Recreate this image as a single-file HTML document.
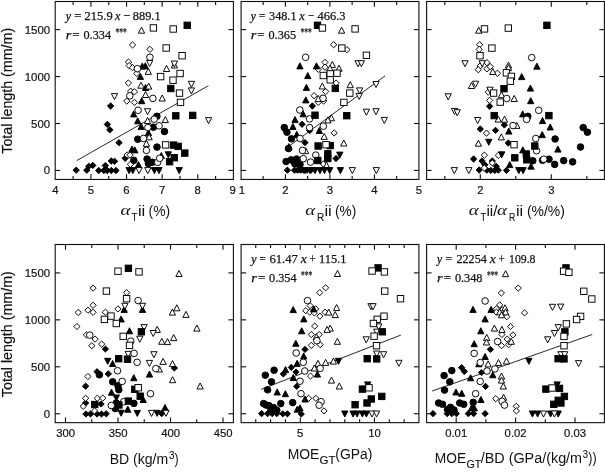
<!DOCTYPE html>
<html><head><meta charset="utf-8"><title>Scatter plots</title>
<style>
html,body{margin:0;padding:0;background:#fff;}
svg{display:block}
text{font-family:"Liberation Sans",sans-serif;fill:#111}
.b{stroke:#111;stroke-width:0.18px}
.b2{stroke:#111;stroke-width:0.1px}
.ser{font-family:"Liberation Serif",serif}
</style></head><body>
<svg width="605" height="472" viewBox="0 0 605 472">
<rect width="605" height="472" fill="#fff"/>
<g stroke="#111" stroke-width="1.12" fill="none">
<rect x="55.20" y="1.50" width="178.20" height="177.95"/>
<path d="M55.20 170.45L60.20 170.45"/>
<path d="M233.40 170.45L228.40 170.45"/>
<path d="M55.20 123.50L60.20 123.50"/>
<path d="M233.40 123.50L228.40 123.50"/>
<path d="M55.20 76.55L60.20 76.55"/>
<path d="M233.40 76.55L228.40 76.55"/>
<path d="M55.20 29.60L60.20 29.60"/>
<path d="M233.40 29.60L228.40 29.60"/>
<path d="M90.92 179.45L90.92 174.25"/>
<path d="M90.92 1.50L90.92 6.70"/>
<path d="M126.54 179.45L126.54 174.25"/>
<path d="M126.54 1.50L126.54 6.70"/>
<path d="M162.16 179.45L162.16 174.25"/>
<path d="M162.16 1.50L162.16 6.70"/>
<path d="M197.78 179.45L197.78 174.25"/>
<path d="M197.78 1.50L197.78 6.70"/>
<path d="M73.11 179.45L73.11 176.05"/>
<path d="M73.11 1.50L73.11 4.90"/>
<path d="M108.73 179.45L108.73 176.05"/>
<path d="M108.73 1.50L108.73 4.90"/>
<path d="M144.35 179.45L144.35 176.05"/>
<path d="M144.35 1.50L144.35 4.90"/>
<path d="M179.97 179.45L179.97 176.05"/>
<path d="M179.97 1.50L179.97 4.90"/>
<path d="M215.59 179.45L215.59 176.05"/>
<path d="M215.59 1.50L215.59 4.90"/>
<rect x="241.10" y="1.50" width="177.80" height="177.95"/>
<path d="M241.10 170.45L246.10 170.45"/>
<path d="M418.90 170.45L413.90 170.45"/>
<path d="M241.10 123.50L246.10 123.50"/>
<path d="M418.90 123.50L413.90 123.50"/>
<path d="M241.10 76.55L246.10 76.55"/>
<path d="M418.90 76.55L413.90 76.55"/>
<path d="M241.10 29.60L246.10 29.60"/>
<path d="M418.90 29.60L413.90 29.60"/>
<path d="M285.40 179.45L285.40 174.25"/>
<path d="M285.40 1.50L285.40 6.70"/>
<path d="M329.90 179.45L329.90 174.25"/>
<path d="M329.90 1.50L329.90 6.70"/>
<path d="M374.40 179.45L374.40 174.25"/>
<path d="M374.40 1.50L374.40 6.70"/>
<path d="M263.15 179.45L263.15 176.05"/>
<path d="M263.15 1.50L263.15 4.90"/>
<path d="M307.65 179.45L307.65 176.05"/>
<path d="M307.65 1.50L307.65 4.90"/>
<path d="M352.15 179.45L352.15 176.05"/>
<path d="M352.15 1.50L352.15 4.90"/>
<path d="M396.65 179.45L396.65 176.05"/>
<path d="M396.65 1.50L396.65 4.90"/>
<rect x="426.60" y="1.50" width="177.80" height="177.95"/>
<path d="M426.60 170.45L431.60 170.45"/>
<path d="M604.40 170.45L599.40 170.45"/>
<path d="M426.60 123.50L431.60 123.50"/>
<path d="M604.40 123.50L599.40 123.50"/>
<path d="M426.60 76.55L431.60 76.55"/>
<path d="M604.40 76.55L599.40 76.55"/>
<path d="M426.60 29.60L431.60 29.60"/>
<path d="M604.40 29.60L599.40 29.60"/>
<path d="M480.30 179.45L480.30 174.25"/>
<path d="M480.30 1.50L480.30 6.70"/>
<path d="M551.30 179.45L551.30 174.25"/>
<path d="M551.30 1.50L551.30 6.70"/>
<path d="M444.80 179.45L444.80 176.05"/>
<path d="M444.80 1.50L444.80 4.90"/>
<path d="M515.80 179.45L515.80 176.05"/>
<path d="M515.80 1.50L515.80 4.90"/>
<path d="M586.80 179.45L586.80 176.05"/>
<path d="M586.80 1.50L586.80 4.90"/>
<rect x="55.20" y="244.50" width="178.20" height="178.15"/>
<path d="M55.20 413.75L60.20 413.75"/>
<path d="M233.40 413.75L228.40 413.75"/>
<path d="M55.20 366.80L60.20 366.80"/>
<path d="M233.40 366.80L228.40 366.80"/>
<path d="M55.20 319.85L60.20 319.85"/>
<path d="M233.40 319.85L228.40 319.85"/>
<path d="M55.20 272.90L60.20 272.90"/>
<path d="M233.40 272.90L228.40 272.90"/>
<path d="M65.50 422.65L65.50 417.45"/>
<path d="M65.50 244.50L65.50 249.70"/>
<path d="M118.00 422.65L118.00 417.45"/>
<path d="M118.00 244.50L118.00 249.70"/>
<path d="M170.50 422.65L170.50 417.45"/>
<path d="M170.50 244.50L170.50 249.70"/>
<path d="M223.00 422.65L223.00 417.45"/>
<path d="M223.00 244.50L223.00 249.70"/>
<path d="M91.75 422.65L91.75 419.25"/>
<path d="M91.75 244.50L91.75 247.90"/>
<path d="M144.25 422.65L144.25 419.25"/>
<path d="M144.25 244.50L144.25 247.90"/>
<path d="M196.75 422.65L196.75 419.25"/>
<path d="M196.75 244.50L196.75 247.90"/>
<rect x="241.10" y="244.50" width="177.80" height="178.15"/>
<path d="M241.10 413.75L246.10 413.75"/>
<path d="M418.90 413.75L413.90 413.75"/>
<path d="M241.10 366.80L246.10 366.80"/>
<path d="M418.90 366.80L413.90 366.80"/>
<path d="M241.10 319.85L246.10 319.85"/>
<path d="M418.90 319.85L413.90 319.85"/>
<path d="M241.10 272.90L246.10 272.90"/>
<path d="M418.90 272.90L413.90 272.90"/>
<path d="M300.26 422.65L300.26 417.45"/>
<path d="M300.26 244.50L300.26 249.70"/>
<path d="M374.46 422.65L374.46 417.45"/>
<path d="M374.46 244.50L374.46 249.70"/>
<path d="M255.74 422.65L255.74 419.25"/>
<path d="M255.74 244.50L255.74 247.90"/>
<path d="M270.58 422.65L270.58 419.25"/>
<path d="M270.58 244.50L270.58 247.90"/>
<path d="M285.42 422.65L285.42 419.25"/>
<path d="M285.42 244.50L285.42 247.90"/>
<path d="M315.10 422.65L315.10 419.25"/>
<path d="M315.10 244.50L315.10 247.90"/>
<path d="M329.94 422.65L329.94 419.25"/>
<path d="M329.94 244.50L329.94 247.90"/>
<path d="M344.78 422.65L344.78 419.25"/>
<path d="M344.78 244.50L344.78 247.90"/>
<path d="M359.62 422.65L359.62 419.25"/>
<path d="M359.62 244.50L359.62 247.90"/>
<path d="M389.30 422.65L389.30 419.25"/>
<path d="M389.30 244.50L389.30 247.90"/>
<path d="M404.14 422.65L404.14 419.25"/>
<path d="M404.14 244.50L404.14 247.90"/>
<rect x="426.60" y="244.50" width="177.80" height="178.15"/>
<path d="M426.60 413.75L431.60 413.75"/>
<path d="M604.40 413.75L599.40 413.75"/>
<path d="M426.60 366.80L431.60 366.80"/>
<path d="M604.40 366.80L599.40 366.80"/>
<path d="M426.60 319.85L431.60 319.85"/>
<path d="M604.40 319.85L599.40 319.85"/>
<path d="M426.60 272.90L431.60 272.90"/>
<path d="M604.40 272.90L599.40 272.90"/>
<path d="M456.20 422.65L456.20 417.45"/>
<path d="M456.20 244.50L456.20 249.70"/>
<path d="M515.60 422.65L515.60 417.45"/>
<path d="M515.60 244.50L515.60 249.70"/>
<path d="M575.00 422.65L575.00 417.45"/>
<path d="M575.00 244.50L575.00 249.70"/>
<path d="M485.90 422.65L485.90 419.25"/>
<path d="M485.90 244.50L485.90 247.90"/>
<path d="M545.30 422.65L545.30 419.25"/>
<path d="M545.30 244.50L545.30 247.90"/>
</g>
<path d="M76.7 160.6L208.4 85.7" stroke="#111" stroke-width="0.9" fill="none"/>
<path d="M285.4 148.8L385.0 75.9" stroke="#111" stroke-width="0.9" fill="none"/>
<path d="M261.2 389.3L400.8 335.1" stroke="#111" stroke-width="0.9" fill="none"/>
<path d="M432.1 391.0L592.2 334.5" stroke="#111" stroke-width="0.9" fill="none"/>
<g stroke="#000" stroke-width="0.95" stroke-linejoin="miter">
<path d="M107.4 106.0L110.6 102.8L113.8 106.0L110.6 109.2Z" fill="#000"/>
<path d="M104.2 124.4L107.4 121.2L110.6 124.4L107.4 127.6Z" fill="#000"/>
<path d="M106.6 129.8L109.8 126.7L113.0 129.8L109.8 133.0Z" fill="#000"/>
<path d="M115.8 142.7L119.0 139.5L122.2 142.7L119.0 145.8Z" fill="#000"/>
<path d="M73.0 170.2L76.2 167.0L79.4 170.2L76.2 173.3Z" fill="#000"/>
<path d="M83.6 170.2L86.8 167.0L90.0 170.2L86.8 173.3Z" fill="#000"/>
<path d="M85.6 166.3L88.8 163.2L92.0 166.3L88.8 169.5Z" fill="#000"/>
<path d="M89.6 165.4L92.8 162.2L96.0 165.4L92.8 168.6Z" fill="#000"/>
<path d="M95.5 170.5L98.7 167.3L101.9 170.5L98.7 173.7Z" fill="#000"/>
<path d="M100.8 170.5L104.0 167.3L107.2 170.5L104.0 173.7Z" fill="#000"/>
<path d="M102.1 165.6L105.3 162.4L108.5 165.6L105.3 168.8Z" fill="#000"/>
<path d="M104.1 170.5L107.3 167.3L110.5 170.5L107.3 173.7Z" fill="#000"/>
<path d="M108.1 170.5L111.3 167.3L114.5 170.5L111.3 173.7Z" fill="#000"/>
<path d="M112.8 170.5L115.9 167.3L119.1 170.5L115.9 173.7Z" fill="#000"/>
<path d="M108.1 161.0L111.3 157.8L114.5 161.0L111.3 164.2Z" fill="#000"/>
<path d="M111.4 161.3L114.6 158.2L117.8 161.3L114.6 164.5Z" fill="#000"/>
<path d="M122.0 158.3L125.2 155.2L128.3 158.3L125.2 161.5Z" fill="#000"/>
<path d="M129.3 44.9L132.5 41.8L135.7 44.9L132.5 48.0Z" fill="#fff"/>
<path d="M146.8 49.4L149.9 46.2L153.1 49.4L149.9 52.5Z" fill="#fff"/>
<path d="M125.3 62.0L128.5 58.9L131.7 62.0L128.5 65.2Z" fill="#fff"/>
<path d="M126.0 65.6L129.2 62.4L132.3 65.6L129.2 68.8Z" fill="#fff"/>
<path d="M129.3 67.6L132.5 64.4L135.7 67.6L132.5 70.8Z" fill="#fff"/>
<path d="M133.7 73.4L136.8 70.2L140.0 73.4L136.8 76.6Z" fill="#fff"/>
<path d="M125.2 83.0L128.4 79.8L131.6 83.0L128.4 86.2Z" fill="#fff"/>
<path d="M127.5 91.2L130.7 88.0L133.8 91.2L130.7 94.4Z" fill="#fff"/>
<path d="M131.2 91.8L134.4 88.6L137.6 91.8L134.4 95.0Z" fill="#fff"/>
<path d="M123.6 101.1L126.8 97.9L129.9 101.1L126.8 104.2Z" fill="#fff"/>
<path d="M131.2 102.4L134.4 99.2L137.6 102.4L134.4 105.6Z" fill="#fff"/>
<path d="M123.9 155.0L127.1 151.8L130.2 155.0L127.1 158.2Z" fill="#fff"/>
<path d="M126.8 155.0L130.0 151.8L133.2 155.0L130.0 158.2Z" fill="#fff"/>
<path d="M127.3 164.3L130.5 161.2L133.7 164.3L130.5 167.5Z" fill="#fff"/>
<path d="M139.15 69.10L145.45 69.10L142.30 63.05Z" fill="#000"/>
<path d="M142.15 68.80L148.45 68.80L145.30 62.75Z" fill="#000"/>
<path d="M137.25 79.40L143.55 79.40L140.40 73.35Z" fill="#000"/>
<path d="M142.45 90.50L148.75 90.50L145.60 84.45Z" fill="#000"/>
<path d="M138.55 103.70L144.85 103.70L141.70 97.65Z" fill="#000"/>
<path d="M130.55 116.90L136.85 116.90L133.70 110.85Z" fill="#000"/>
<path d="M134.55 123.80L140.85 123.80L137.70 117.75Z" fill="#000"/>
<path d="M138.05 129.40L144.35 129.40L141.20 123.35Z" fill="#000"/>
<path d="M128.85 152.10L135.15 152.10L132.00 146.05Z" fill="#000"/>
<path d="M131.65 152.90L137.95 152.90L134.80 146.85Z" fill="#000"/>
<path d="M135.25 167.60L141.55 167.60L138.40 161.55Z" fill="#000"/>
<path d="M145.25 135.60L151.55 135.60L148.40 129.55Z" fill="#000"/>
<path d="M158.15 158.60L164.45 158.60L161.30 152.55Z" fill="#000"/>
<path d="M138.35 33.20L144.65 33.20L141.50 27.15Z" fill="#fff"/>
<path d="M145.15 74.40L151.45 74.40L148.30 68.35Z" fill="#fff"/>
<path d="M163.45 71.50L169.75 71.50L166.60 65.45Z" fill="#fff"/>
<path d="M171.25 68.00L177.55 68.00L174.40 61.95Z" fill="#fff"/>
<path d="M137.85 88.20L144.15 88.20L141.00 82.15Z" fill="#fff"/>
<path d="M145.55 89.10L151.85 89.10L148.70 83.05Z" fill="#fff"/>
<path d="M142.45 97.50L148.75 97.50L145.60 91.45Z" fill="#fff"/>
<path d="M159.05 101.00L165.35 101.00L162.20 94.95Z" fill="#fff"/>
<path d="M144.45 123.50L150.75 123.50L147.60 117.45Z" fill="#fff"/>
<path d="M162.15 122.60L168.45 122.60L165.30 116.55Z" fill="#fff"/>
<path d="M145.95 139.80L152.25 139.80L149.10 133.75Z" fill="#fff"/>
<path d="M143.25 146.40L149.55 146.40L146.40 140.35Z" fill="#fff"/>
<circle cx="156.9" cy="116.3" r="3.3" fill="#000"/>
<circle cx="153.4" cy="127.2" r="3.3" fill="#000"/>
<circle cx="164.5" cy="131.5" r="3.3" fill="#000"/>
<circle cx="133.8" cy="160.3" r="3.3" fill="#000"/>
<circle cx="137.8" cy="139.2" r="3.3" fill="#000"/>
<circle cx="157.0" cy="147.1" r="3.3" fill="#000"/>
<circle cx="147.1" cy="159.0" r="3.3" fill="#000"/>
<circle cx="148.4" cy="163.6" r="3.3" fill="#000"/>
<circle cx="152.4" cy="162.3" r="3.3" fill="#000"/>
<circle cx="149.9" cy="57.3" r="3.3" fill="#fff"/>
<circle cx="137.4" cy="68.7" r="3.3" fill="#fff"/>
<circle cx="129.8" cy="95.8" r="3.3" fill="#fff"/>
<circle cx="152.9" cy="98.4" r="3.3" fill="#fff"/>
<circle cx="138.1" cy="110.3" r="3.3" fill="#fff"/>
<circle cx="154.2" cy="119.2" r="3.3" fill="#fff"/>
<circle cx="147.9" cy="127.5" r="3.3" fill="#fff"/>
<circle cx="159.1" cy="125.8" r="3.3" fill="#fff"/>
<circle cx="143.5" cy="138.5" r="3.3" fill="#fff"/>
<circle cx="146.4" cy="150.4" r="3.3" fill="#fff"/>
<circle cx="157.7" cy="162.3" r="3.3" fill="#fff"/>
<circle cx="159.7" cy="158.3" r="3.3" fill="#fff"/>
<path d="M125.95 167.60L132.25 167.60L129.10 173.65Z" fill="#000"/>
<path d="M129.65 167.60L135.95 167.60L132.80 173.65Z" fill="#000"/>
<path d="M165.15 151.80L171.45 151.80L168.30 157.85Z" fill="#000"/>
<path d="M151.25 167.60L157.55 167.60L154.40 173.65Z" fill="#000"/>
<path d="M155.85 167.60L162.15 167.60L159.00 173.65Z" fill="#000"/>
<path d="M176.05 167.60L182.35 167.60L179.20 173.65Z" fill="#000"/>
<path d="M146.55 60.40L152.85 60.40L149.70 66.45Z" fill="#fff"/>
<path d="M171.25 61.00L177.55 61.00L174.40 67.05Z" fill="#fff"/>
<path d="M111.35 93.60L117.65 93.60L114.50 99.65Z" fill="#fff"/>
<path d="M144.45 108.70L150.75 108.70L147.60 114.75Z" fill="#fff"/>
<path d="M188.25 81.30L194.55 81.30L191.40 87.35Z" fill="#fff"/>
<path d="M188.25 87.90L194.55 87.90L191.40 93.95Z" fill="#fff"/>
<path d="M205.45 117.60L211.75 117.60L208.60 123.65Z" fill="#fff"/>
<path d="M135.95 167.60L142.25 167.60L139.10 173.65Z" fill="#fff"/>
<path d="M144.65 167.60L150.95 167.60L147.80 173.65Z" fill="#fff"/>
<rect x="184.0" y="22.1" width="6.4" height="6.4" fill="#000"/>
<rect x="167.6" y="85.3" width="6.4" height="6.4" fill="#000"/>
<rect x="172.6" y="112.6" width="6.4" height="6.4" fill="#000"/>
<rect x="189.5" y="112.2" width="6.4" height="6.4" fill="#000"/>
<rect x="170.4" y="141.9" width="6.4" height="6.4" fill="#000"/>
<rect x="175.0" y="143.2" width="6.4" height="6.4" fill="#000"/>
<rect x="181.6" y="149.9" width="6.4" height="6.4" fill="#000"/>
<rect x="171.0" y="154.5" width="6.4" height="6.4" fill="#000"/>
<rect x="166.4" y="158.5" width="6.4" height="6.4" fill="#000"/>
<rect x="150.2" y="24.7" width="6.4" height="6.4" fill="#fff"/>
<rect x="170.0" y="25.8" width="6.4" height="6.4" fill="#fff"/>
<rect x="163.0" y="44.8" width="6.4" height="6.4" fill="#fff"/>
<rect x="178.9" y="52.5" width="6.4" height="6.4" fill="#fff"/>
<rect x="157.4" y="73.4" width="6.4" height="6.4" fill="#fff"/>
<rect x="176.9" y="70.3" width="6.4" height="6.4" fill="#fff"/>
<rect x="169.8" y="77.0" width="6.4" height="6.4" fill="#fff"/>
<rect x="176.3" y="89.9" width="6.4" height="6.4" fill="#fff"/>
<rect x="177.3" y="99.2" width="6.4" height="6.4" fill="#fff"/>
<rect x="162.4" y="141.7" width="6.4" height="6.4" fill="#fff"/>
<path d="M309.2 106.0L312.4 102.8L315.5 106.0L312.4 109.2Z" fill="#000"/>
<path d="M299.0 124.3L302.1 121.1L305.2 124.3L302.1 127.5Z" fill="#000"/>
<path d="M306.5 130.5L309.6 127.3L312.8 130.5L309.6 133.7Z" fill="#000"/>
<path d="M301.9 142.6L305.0 139.4L308.1 142.6L305.0 145.8Z" fill="#000"/>
<path d="M332.9 158.5L336.0 155.3L339.1 158.5L336.0 161.7Z" fill="#000"/>
<path d="M284.2 170.2L287.4 167.0L290.5 170.2L287.4 173.3Z" fill="#000"/>
<path d="M291.4 170.2L294.5 167.0L297.6 170.2L294.5 173.3Z" fill="#000"/>
<path d="M294.4 170.2L297.5 167.0L300.6 170.2L297.5 173.3Z" fill="#000"/>
<path d="M297.4 170.2L300.5 167.0L303.6 170.2L300.5 173.3Z" fill="#000"/>
<path d="M300.4 170.2L303.5 167.0L306.6 170.2L303.5 173.3Z" fill="#000"/>
<path d="M303.9 170.2L307.0 167.0L310.1 170.2L307.0 173.3Z" fill="#000"/>
<path d="M307.9 170.2L311.0 167.0L314.1 170.2L311.0 173.3Z" fill="#000"/>
<path d="M330.5 44.8L333.6 41.6L336.8 44.8L333.6 47.9Z" fill="#fff"/>
<path d="M343.8 49.6L346.9 46.5L350.0 49.6L346.9 52.8Z" fill="#fff"/>
<path d="M321.9 62.4L325.0 59.2L328.1 62.4L325.0 65.5Z" fill="#fff"/>
<path d="M321.9 67.2L325.0 64.0L328.1 67.2L325.0 70.4Z" fill="#fff"/>
<path d="M315.2 69.2L318.4 66.0L321.5 69.2L318.4 72.4Z" fill="#fff"/>
<path d="M333.1 83.1L336.2 79.9L339.3 83.1L336.2 86.2Z" fill="#fff"/>
<path d="M322.5 91.5L325.6 88.3L328.8 91.5L325.6 94.7Z" fill="#fff"/>
<path d="M311.0 95.7L314.1 92.5L317.2 95.7L314.1 98.9Z" fill="#fff"/>
<path d="M315.2 102.3L318.3 99.1L321.4 102.3L318.3 105.5Z" fill="#fff"/>
<path d="M320.5 101.0L323.6 97.8L326.8 101.0L323.6 104.2Z" fill="#fff"/>
<path d="M331.1 132.9L334.2 129.8L337.3 132.9L334.2 136.1Z" fill="#fff"/>
<path d="M320.2 163.9L323.3 160.8L326.4 163.9L323.3 167.1Z" fill="#fff"/>
<path d="M296.75 68.90L303.05 68.90L299.90 62.85Z" fill="#000"/>
<path d="M313.25 68.90L319.55 68.90L316.40 62.85Z" fill="#000"/>
<path d="M304.65 78.60L310.95 78.60L307.80 72.55Z" fill="#000"/>
<path d="M303.25 90.40L309.55 90.40L306.40 84.35Z" fill="#000"/>
<path d="M302.65 102.90L308.95 102.90L305.80 96.85Z" fill="#000"/>
<path d="M299.95 116.80L306.25 116.80L303.10 110.75Z" fill="#000"/>
<path d="M291.85 122.60L298.15 122.60L295.00 116.55Z" fill="#000"/>
<path d="M289.75 129.50L296.05 129.50L292.90 123.45Z" fill="#000"/>
<path d="M316.15 133.50L322.45 133.50L319.30 127.45Z" fill="#000"/>
<path d="M293.65 137.40L299.95 137.40L296.80 131.35Z" fill="#000"/>
<path d="M285.75 149.60L292.05 149.60L288.90 143.55Z" fill="#000"/>
<path d="M338.45 33.20L344.75 33.20L341.60 27.15Z" fill="#fff"/>
<path d="M329.15 67.40L335.45 67.40L332.30 61.35Z" fill="#fff"/>
<path d="M326.85 71.20L333.15 71.20L330.00 65.15Z" fill="#fff"/>
<path d="M335.85 71.20L342.15 71.20L339.00 65.15Z" fill="#fff"/>
<path d="M319.15 89.00L325.45 89.00L322.30 82.95Z" fill="#fff"/>
<path d="M347.05 87.70L353.35 87.70L350.20 81.65Z" fill="#fff"/>
<path d="M315.15 101.60L321.45 101.60L318.30 95.55Z" fill="#fff"/>
<path d="M328.25 120.80L334.55 120.80L331.40 114.75Z" fill="#fff"/>
<path d="M324.75 122.90L331.05 122.90L327.90 116.85Z" fill="#fff"/>
<path d="M321.05 139.40L327.35 139.40L324.20 133.35Z" fill="#fff"/>
<path d="M340.65 146.00L346.95 146.00L343.80 139.95Z" fill="#fff"/>
<path d="M302.45 153.70L308.75 153.70L305.60 147.65Z" fill="#fff"/>
<path d="M323.35 168.10L329.65 168.10L326.50 162.05Z" fill="#fff"/>
<circle cx="284.3" cy="127.6" r="3.3" fill="#000"/>
<circle cx="286.9" cy="132.2" r="3.3" fill="#000"/>
<circle cx="291.5" cy="138.8" r="3.3" fill="#000"/>
<circle cx="288.5" cy="148.5" r="3.3" fill="#000"/>
<circle cx="286.1" cy="161.5" r="3.3" fill="#000"/>
<circle cx="291.2" cy="159.9" r="3.3" fill="#000"/>
<circle cx="296.6" cy="159.0" r="3.3" fill="#000"/>
<circle cx="294.8" cy="163.8" r="3.3" fill="#000"/>
<circle cx="300.0" cy="164.5" r="3.3" fill="#000"/>
<circle cx="305.6" cy="57.3" r="3.3" fill="#fff"/>
<circle cx="323.0" cy="98.3" r="3.3" fill="#fff"/>
<circle cx="299.8" cy="110.0" r="3.3" fill="#fff"/>
<circle cx="309.5" cy="118.9" r="3.3" fill="#fff"/>
<circle cx="309.6" cy="127.6" r="3.3" fill="#fff"/>
<circle cx="323.3" cy="126.2" r="3.3" fill="#fff"/>
<circle cx="300.1" cy="138.5" r="3.3" fill="#fff"/>
<circle cx="302.5" cy="150.4" r="3.3" fill="#fff"/>
<circle cx="315.8" cy="155.1" r="3.3" fill="#fff"/>
<circle cx="303.3" cy="158.7" r="3.3" fill="#fff"/>
<circle cx="310.5" cy="162.1" r="3.3" fill="#fff"/>
<path d="M336.65 152.10L342.95 152.10L339.80 158.15Z" fill="#000"/>
<path d="M301.85 167.60L308.15 167.60L305.00 173.65Z" fill="#000"/>
<path d="M306.85 167.60L313.15 167.60L310.00 173.65Z" fill="#000"/>
<path d="M311.85 167.60L318.15 167.60L315.00 173.65Z" fill="#000"/>
<path d="M316.85 167.60L323.15 167.60L320.00 173.65Z" fill="#000"/>
<path d="M321.35 167.60L327.65 167.60L324.50 173.65Z" fill="#000"/>
<path d="M326.55 167.60L332.85 167.60L329.70 173.65Z" fill="#000"/>
<path d="M337.25 167.60L343.55 167.60L340.40 173.65Z" fill="#000"/>
<path d="M354.95 60.70L361.25 60.70L358.10 66.75Z" fill="#fff"/>
<path d="M358.25 60.70L364.55 60.70L361.40 66.75Z" fill="#fff"/>
<path d="M356.45 87.90L362.75 87.90L359.60 93.95Z" fill="#fff"/>
<path d="M356.05 93.40L362.35 93.40L359.20 99.45Z" fill="#fff"/>
<path d="M372.85 81.50L379.15 81.50L376.00 87.55Z" fill="#fff"/>
<path d="M363.25 109.20L369.55 109.20L366.40 115.25Z" fill="#fff"/>
<path d="M372.85 108.70L379.15 108.70L376.00 114.75Z" fill="#fff"/>
<path d="M381.15 117.40L387.45 117.40L384.30 123.45Z" fill="#fff"/>
<path d="M349.15 167.60L355.45 167.60L352.30 173.65Z" fill="#fff"/>
<path d="M373.15 167.60L379.45 167.60L376.30 173.65Z" fill="#fff"/>
<rect x="314.3" y="22.1" width="6.4" height="6.4" fill="#000"/>
<rect x="332.1" y="85.2" width="6.4" height="6.4" fill="#000"/>
<rect x="311.8" y="112.0" width="6.4" height="6.4" fill="#000"/>
<rect x="343.6" y="112.5" width="6.4" height="6.4" fill="#000"/>
<rect x="314.9" y="142.8" width="6.4" height="6.4" fill="#000"/>
<rect x="327.0" y="142.4" width="6.4" height="6.4" fill="#000"/>
<rect x="324.6" y="150.6" width="6.4" height="6.4" fill="#000"/>
<rect x="324.6" y="155.3" width="6.4" height="6.4" fill="#000"/>
<rect x="314.6" y="157.3" width="6.4" height="6.4" fill="#000"/>
<rect x="319.2" y="24.8" width="6.4" height="6.4" fill="#fff"/>
<rect x="351.9" y="25.7" width="6.4" height="6.4" fill="#fff"/>
<rect x="338.6" y="44.9" width="6.4" height="6.4" fill="#fff"/>
<rect x="363.2" y="52.1" width="6.4" height="6.4" fill="#fff"/>
<rect x="333.8" y="70.0" width="6.4" height="6.4" fill="#fff"/>
<rect x="320.1" y="72.3" width="6.4" height="6.4" fill="#fff"/>
<rect x="327.0" y="70.7" width="6.4" height="6.4" fill="#fff"/>
<rect x="327.0" y="76.6" width="6.4" height="6.4" fill="#fff"/>
<rect x="346.6" y="89.9" width="6.4" height="6.4" fill="#fff"/>
<rect x="340.7" y="99.2" width="6.4" height="6.4" fill="#fff"/>
<rect x="322.8" y="141.5" width="6.4" height="6.4" fill="#fff"/>
<path d="M486.5 106.3L489.6 103.1L492.8 106.3L489.6 109.5Z" fill="#000"/>
<path d="M501.2 124.9L504.4 121.8L507.5 124.9L504.4 128.1Z" fill="#000"/>
<path d="M477.2 129.0L480.3 125.8L483.4 129.0L480.3 132.2Z" fill="#000"/>
<path d="M492.4 130.3L495.5 127.2L498.6 130.3L495.5 133.5Z" fill="#000"/>
<path d="M505.2 143.0L508.3 139.8L511.4 143.0L508.3 146.2Z" fill="#000"/>
<path d="M470.5 159.0L473.6 155.8L476.8 159.0L473.6 162.2Z" fill="#000"/>
<path d="M478.9 160.9L482.0 157.8L485.1 160.9L482.0 164.1Z" fill="#000"/>
<path d="M489.2 161.0L492.3 157.8L495.4 161.0L492.3 164.2Z" fill="#000"/>
<path d="M476.1 170.0L479.2 166.8L482.3 170.0L479.2 173.2Z" fill="#000"/>
<path d="M481.8 164.8L484.9 161.7L488.0 164.8L484.9 168.0Z" fill="#000"/>
<path d="M483.8 170.2L486.9 167.0L490.0 170.2L486.9 173.3Z" fill="#000"/>
<path d="M487.7 170.4L490.8 167.2L493.9 170.4L490.8 173.6Z" fill="#000"/>
<path d="M491.7 170.4L494.8 167.2L497.9 170.4L494.8 173.6Z" fill="#000"/>
<path d="M495.2 170.2L498.3 167.0L501.4 170.2L498.3 173.3Z" fill="#000"/>
<path d="M493.2 166.3L496.3 163.2L499.4 166.3L496.3 169.5Z" fill="#000"/>
<path d="M503.4 170.4L506.5 167.2L509.6 170.4L506.5 173.6Z" fill="#000"/>
<path d="M476.5 44.8L479.6 41.6L482.8 44.8L479.6 47.9Z" fill="#fff"/>
<path d="M476.1 49.4L479.2 46.2L482.3 49.4L479.2 52.5Z" fill="#fff"/>
<path d="M483.8 62.6L486.9 59.5L490.0 62.6L486.9 65.8Z" fill="#fff"/>
<path d="M477.1 65.9L480.2 62.8L483.3 65.9L480.2 69.1Z" fill="#fff"/>
<path d="M475.2 69.7L478.3 66.5L481.4 69.7L478.3 72.9Z" fill="#fff"/>
<path d="M483.8 68.8L486.9 65.6L490.0 68.8L486.9 72.0Z" fill="#fff"/>
<path d="M487.1 66.6L490.2 63.4L493.3 66.6L490.2 69.8Z" fill="#fff"/>
<path d="M494.2 73.3L497.4 70.1L500.5 73.3L497.4 76.5Z" fill="#fff"/>
<path d="M485.2 92.1L488.3 88.9L491.4 92.1L488.3 95.2Z" fill="#fff"/>
<path d="M486.5 100.4L489.6 97.2L492.8 100.4L489.6 103.6Z" fill="#fff"/>
<path d="M483.4 133.2L486.5 130.0L489.6 133.2L486.5 136.3Z" fill="#fff"/>
<path d="M481.2 155.2L484.4 152.0L487.5 155.2L484.4 158.3Z" fill="#fff"/>
<path d="M495.2 155.4L498.3 152.2L501.4 155.4L498.3 158.6Z" fill="#fff"/>
<path d="M489.2 162.9L492.3 159.8L495.4 162.9L492.3 166.1Z" fill="#fff"/>
<path d="M481.2 168.0L484.4 164.8L487.5 168.0L484.4 171.2Z" fill="#fff"/>
<path d="M533.75 69.20L540.05 69.20L536.90 63.15Z" fill="#000"/>
<path d="M518.55 79.60L524.85 79.60L521.70 73.55Z" fill="#000"/>
<path d="M527.25 91.10L533.55 91.10L530.40 85.05Z" fill="#000"/>
<path d="M527.55 103.70L533.85 103.70L530.70 97.65Z" fill="#000"/>
<path d="M519.55 116.90L525.85 116.90L522.70 110.85Z" fill="#000"/>
<path d="M539.35 123.60L545.65 123.60L542.50 117.55Z" fill="#000"/>
<path d="M547.05 130.00L553.35 130.00L550.20 123.95Z" fill="#000"/>
<path d="M539.05 137.60L545.35 137.60L542.20 131.55Z" fill="#000"/>
<path d="M554.75 152.10L561.05 152.10L557.90 146.05Z" fill="#000"/>
<path d="M527.85 169.20L534.15 169.20L531.00 163.15Z" fill="#000"/>
<path d="M505.65 134.10L511.95 134.10L508.80 128.05Z" fill="#000"/>
<path d="M519.65 152.90L525.95 152.90L522.80 146.85Z" fill="#000"/>
<path d="M506.55 167.60L512.85 167.60L509.70 161.55Z" fill="#000"/>
<path d="M475.55 33.20L481.85 33.20L478.70 27.15Z" fill="#fff"/>
<path d="M489.65 74.50L495.95 74.50L492.80 68.45Z" fill="#fff"/>
<path d="M505.35 68.10L511.65 68.10L508.50 62.05Z" fill="#fff"/>
<path d="M505.35 70.60L511.65 70.60L508.50 64.55Z" fill="#fff"/>
<path d="M468.35 88.50L474.65 88.50L471.50 82.45Z" fill="#fff"/>
<path d="M498.35 97.70L504.65 97.70L501.50 91.65Z" fill="#fff"/>
<path d="M511.05 101.50L517.35 101.50L514.20 95.45Z" fill="#fff"/>
<path d="M495.05 122.10L501.35 122.10L498.20 116.05Z" fill="#fff"/>
<path d="M501.35 122.20L507.65 122.20L504.50 116.15Z" fill="#fff"/>
<path d="M513.65 128.40L519.95 128.40L516.80 122.35Z" fill="#fff"/>
<path d="M498.15 139.90L504.45 139.90L501.30 133.85Z" fill="#fff"/>
<path d="M475.25 146.20L481.55 146.20L478.40 140.15Z" fill="#fff"/>
<circle cx="527.8" cy="116.3" r="3.3" fill="#000"/>
<circle cx="583.2" cy="127.6" r="3.3" fill="#000"/>
<circle cx="587.4" cy="132.2" r="3.3" fill="#000"/>
<circle cx="555.1" cy="139.0" r="3.3" fill="#000"/>
<circle cx="580.5" cy="147.0" r="3.3" fill="#000"/>
<circle cx="532.8" cy="160.8" r="3.3" fill="#000"/>
<circle cx="542.5" cy="160.3" r="3.3" fill="#000"/>
<circle cx="549.0" cy="159.2" r="3.3" fill="#000"/>
<circle cx="554.7" cy="164.4" r="3.3" fill="#000"/>
<circle cx="563.7" cy="160.6" r="3.3" fill="#000"/>
<circle cx="572.6" cy="161.9" r="3.3" fill="#000"/>
<circle cx="531.7" cy="57.6" r="3.3" fill="#fff"/>
<circle cx="506.7" cy="98.5" r="3.3" fill="#fff"/>
<circle cx="513.0" cy="125.6" r="3.3" fill="#fff"/>
<circle cx="538.7" cy="110.3" r="3.3" fill="#fff"/>
<circle cx="526.6" cy="119.4" r="3.3" fill="#fff"/>
<circle cx="535.8" cy="138.5" r="3.3" fill="#fff"/>
<circle cx="536.6" cy="150.7" r="3.3" fill="#fff"/>
<circle cx="543.8" cy="159.2" r="3.3" fill="#fff"/>
<path d="M485.65 139.30L491.95 139.30L488.80 145.35Z" fill="#000"/>
<path d="M498.55 151.80L504.85 151.80L501.70 157.85Z" fill="#000"/>
<path d="M515.65 167.60L521.95 167.60L518.80 173.65Z" fill="#000"/>
<path d="M519.95 167.60L526.25 167.60L523.10 173.65Z" fill="#000"/>
<path d="M461.85 60.70L468.15 60.70L465.00 66.75Z" fill="#fff"/>
<path d="M479.05 60.70L485.35 60.70L482.20 66.75Z" fill="#fff"/>
<path d="M472.45 81.20L478.75 81.20L475.60 87.25Z" fill="#fff"/>
<path d="M486.85 87.20L493.15 87.20L490.00 93.25Z" fill="#fff"/>
<path d="M445.05 93.80L451.35 93.80L448.20 99.85Z" fill="#fff"/>
<path d="M451.35 108.40L457.65 108.40L454.50 114.45Z" fill="#fff"/>
<path d="M454.05 109.70L460.35 109.70L457.20 115.75Z" fill="#fff"/>
<path d="M474.55 117.50L480.85 117.50L477.70 123.55Z" fill="#fff"/>
<path d="M451.15 167.60L457.45 167.60L454.30 173.65Z" fill="#fff"/>
<path d="M465.65 167.60L471.95 167.60L468.80 173.65Z" fill="#fff"/>
<rect x="543.7" y="22.1" width="6.4" height="6.4" fill="#000"/>
<rect x="500.8" y="85.5" width="6.4" height="6.4" fill="#000"/>
<rect x="491.0" y="112.4" width="6.4" height="6.4" fill="#000"/>
<rect x="545.7" y="112.4" width="6.4" height="6.4" fill="#000"/>
<rect x="531.6" y="142.8" width="6.4" height="6.4" fill="#000"/>
<rect x="511.6" y="154.6" width="6.4" height="6.4" fill="#000"/>
<rect x="523.1" y="150.8" width="6.4" height="6.4" fill="#000"/>
<rect x="523.6" y="156.6" width="6.4" height="6.4" fill="#000"/>
<rect x="481.3" y="25.7" width="6.4" height="6.4" fill="#fff"/>
<rect x="505.1" y="24.9" width="6.4" height="6.4" fill="#fff"/>
<rect x="488.7" y="44.9" width="6.4" height="6.4" fill="#fff"/>
<rect x="476.8" y="52.5" width="6.4" height="6.4" fill="#fff"/>
<rect x="503.2" y="69.6" width="6.4" height="6.4" fill="#fff"/>
<rect x="508.2" y="73.2" width="6.4" height="6.4" fill="#fff"/>
<rect x="507.1" y="78.0" width="6.4" height="6.4" fill="#fff"/>
<rect x="490.4" y="89.9" width="6.4" height="6.4" fill="#fff"/>
<rect x="497.0" y="98.9" width="6.4" height="6.4" fill="#fff"/>
<rect x="510.8" y="141.5" width="6.4" height="6.4" fill="#fff"/>
<path d="M102.2 349.0L105.4 345.9L108.6 349.0L105.4 352.1Z" fill="#000"/>
<path d="M93.9 371.7L97.1 368.6L100.2 371.7L97.1 374.8Z" fill="#000"/>
<path d="M171.2 368.0L174.4 364.9L177.6 368.0L174.4 371.1Z" fill="#000"/>
<path d="M105.1 373.9L108.3 370.8L111.5 373.9L108.3 377.0Z" fill="#000"/>
<path d="M82.4 386.2L85.6 383.1L88.8 386.2L85.6 389.3Z" fill="#000"/>
<path d="M97.8 404.0L101.0 400.9L104.2 404.0L101.0 407.1Z" fill="#000"/>
<path d="M82.4 403.0L85.6 399.9L88.8 403.0L85.6 406.1Z" fill="#000"/>
<path d="M82.8 414.0L85.9 410.9L89.1 414.0L85.9 417.1Z" fill="#000"/>
<path d="M87.3 414.0L90.5 410.9L93.7 414.0L90.5 417.1Z" fill="#000"/>
<path d="M93.9 414.0L97.1 410.9L100.2 414.0L97.1 417.1Z" fill="#000"/>
<path d="M98.3 414.0L101.5 410.9L104.7 414.0L101.5 417.1Z" fill="#000"/>
<path d="M103.0 413.8L106.2 410.7L109.4 413.8L106.2 416.9Z" fill="#000"/>
<path d="M158.5 413.6L161.7 410.5L164.8 413.6L161.7 416.8Z" fill="#000"/>
<path d="M89.9 288.1L93.1 285.0L96.2 288.1L93.1 291.2Z" fill="#fff"/>
<path d="M123.4 292.6L126.6 289.5L129.8 292.6L126.6 295.8Z" fill="#fff"/>
<path d="M89.9 305.3L93.1 302.2L96.2 305.3L93.1 308.4Z" fill="#fff"/>
<path d="M84.8 310.2L87.9 307.1L91.1 310.2L87.9 313.3Z" fill="#fff"/>
<path d="M89.9 312.3L93.1 309.2L96.2 312.3L93.1 315.4Z" fill="#fff"/>
<path d="M75.0 312.5L78.2 309.4L81.4 312.5L78.2 315.6Z" fill="#fff"/>
<path d="M102.2 312.2L105.4 309.1L108.6 312.2L105.4 315.3Z" fill="#fff"/>
<path d="M114.8 308.9L117.9 305.8L121.1 308.9L117.9 312.0Z" fill="#fff"/>
<path d="M73.8 326.5L76.9 323.4L80.1 326.5L76.9 329.6Z" fill="#fff"/>
<path d="M83.3 334.9L86.5 331.8L89.7 334.9L86.5 338.0Z" fill="#fff"/>
<path d="M91.9 339.1L95.1 336.0L98.2 339.1L95.1 342.2Z" fill="#fff"/>
<path d="M98.5 344.1L101.7 341.0L104.9 344.1L101.7 347.2Z" fill="#fff"/>
<path d="M88.6 345.7L91.8 342.6L95.0 345.7L91.8 348.8Z" fill="#fff"/>
<path d="M84.8 376.5L87.9 373.4L91.1 376.5L87.9 379.6Z" fill="#fff"/>
<path d="M82.4 398.3L85.6 395.2L88.8 398.3L85.6 401.4Z" fill="#fff"/>
<path d="M94.1 398.3L97.3 395.2L100.5 398.3L97.3 401.4Z" fill="#fff"/>
<path d="M99.6 398.1L102.8 395.0L106.0 398.1L102.8 401.2Z" fill="#fff"/>
<path d="M80.0 406.3L83.2 403.2L86.4 406.3L83.2 409.4Z" fill="#fff"/>
<path d="M91.3 410.9L94.5 407.8L97.7 410.9L94.5 414.0Z" fill="#fff"/>
<path d="M121.05 312.40L127.35 312.40L124.20 306.35Z" fill="#000"/>
<path d="M139.35 312.40L145.65 312.40L142.50 306.35Z" fill="#000"/>
<path d="M117.95 322.00L124.25 322.00L121.10 315.95Z" fill="#000"/>
<path d="M126.35 333.80L132.65 333.80L129.50 327.75Z" fill="#000"/>
<path d="M109.45 366.50L115.75 366.50L112.60 360.45Z" fill="#000"/>
<path d="M130.65 380.70L136.95 380.70L133.80 374.65Z" fill="#000"/>
<path d="M146.35 377.10L152.65 377.10L149.50 371.05Z" fill="#000"/>
<path d="M108.35 395.20L114.65 395.20L111.50 389.15Z" fill="#000"/>
<path d="M140.05 402.50L146.35 402.50L143.20 396.45Z" fill="#000"/>
<path d="M124.65 412.20L130.95 412.20L127.80 406.15Z" fill="#000"/>
<path d="M161.85 410.50L168.15 410.50L165.00 404.45Z" fill="#000"/>
<path d="M175.85 276.50L182.15 276.50L179.00 270.45Z" fill="#fff"/>
<path d="M173.65 310.80L179.95 310.80L176.80 304.75Z" fill="#fff"/>
<path d="M169.25 315.10L175.55 315.10L172.40 309.05Z" fill="#fff"/>
<path d="M182.85 317.40L189.15 317.40L186.00 311.35Z" fill="#fff"/>
<path d="M193.75 331.10L200.05 331.10L196.90 325.05Z" fill="#fff"/>
<path d="M154.05 332.40L160.35 332.40L157.20 326.35Z" fill="#fff"/>
<path d="M170.55 340.60L176.85 340.60L173.70 334.55Z" fill="#fff"/>
<path d="M158.65 344.30L164.95 344.30L161.80 338.25Z" fill="#fff"/>
<path d="M164.35 344.60L170.65 344.60L167.50 338.55Z" fill="#fff"/>
<path d="M159.95 364.40L166.25 364.40L163.10 358.35Z" fill="#fff"/>
<path d="M169.35 366.60L175.65 366.60L172.50 360.55Z" fill="#fff"/>
<path d="M156.15 372.00L162.45 372.00L159.30 365.95Z" fill="#fff"/>
<path d="M169.45 382.70L175.75 382.70L172.60 376.65Z" fill="#fff"/>
<path d="M196.95 389.00L203.25 389.00L200.10 382.95Z" fill="#fff"/>
<circle cx="99.4" cy="374.8" r="3.3" fill="#000"/>
<circle cx="112.7" cy="381.8" r="3.3" fill="#000"/>
<circle cx="118.0" cy="385.8" r="3.3" fill="#000"/>
<circle cx="118.8" cy="389.8" r="3.3" fill="#000"/>
<circle cx="133.9" cy="403.4" r="3.3" fill="#000"/>
<circle cx="116.3" cy="403.0" r="3.3" fill="#000"/>
<circle cx="114.8" cy="406.7" r="3.3" fill="#000"/>
<circle cx="115.2" cy="408.6" r="3.3" fill="#000"/>
<circle cx="138.1" cy="300.6" r="3.3" fill="#fff"/>
<circle cx="89.8" cy="335.1" r="3.3" fill="#fff"/>
<circle cx="130.8" cy="341.1" r="3.3" fill="#fff"/>
<circle cx="134.1" cy="353.4" r="3.3" fill="#fff"/>
<circle cx="137.1" cy="362.3" r="3.3" fill="#fff"/>
<circle cx="117.5" cy="370.7" r="3.3" fill="#fff"/>
<circle cx="155.8" cy="368.6" r="3.3" fill="#fff"/>
<circle cx="122.2" cy="381.4" r="3.3" fill="#fff"/>
<circle cx="123.7" cy="401.7" r="3.3" fill="#fff"/>
<circle cx="111.3" cy="405.5" r="3.3" fill="#fff"/>
<circle cx="150.5" cy="393.7" r="3.3" fill="#fff"/>
<path d="M104.55 358.30L110.85 358.30L107.70 364.35Z" fill="#000"/>
<path d="M113.15 395.00L119.45 395.00L116.30 401.05Z" fill="#000"/>
<path d="M117.95 410.20L124.25 410.20L121.10 416.25Z" fill="#000"/>
<path d="M134.15 410.40L140.45 410.40L137.30 416.45Z" fill="#000"/>
<path d="M153.95 410.30L160.25 410.30L157.10 416.35Z" fill="#000"/>
<path d="M121.75 303.30L128.05 303.30L124.90 309.35Z" fill="#fff"/>
<path d="M139.35 303.30L145.65 303.30L142.50 309.35Z" fill="#fff"/>
<path d="M140.95 324.60L147.25 324.60L144.10 330.65Z" fill="#fff"/>
<path d="M136.65 336.20L142.95 336.20L139.80 342.25Z" fill="#fff"/>
<path d="M125.05 351.40L131.35 351.40L128.20 357.45Z" fill="#fff"/>
<path d="M146.25 360.40L152.55 360.40L149.40 366.45Z" fill="#fff"/>
<path d="M150.05 330.50L156.35 330.50L153.20 336.55Z" fill="#fff"/>
<path d="M150.75 351.70L157.05 351.70L153.90 357.75Z" fill="#fff"/>
<path d="M148.35 410.40L154.65 410.40L151.50 416.45Z" fill="#fff"/>
<path d="M162.85 410.30L169.15 410.30L166.00 416.35Z" fill="#fff"/>
<rect x="125.2" y="265.1" width="6.4" height="6.4" fill="#000"/>
<rect x="138.2" y="328.6" width="6.4" height="6.4" fill="#000"/>
<rect x="115.5" y="355.5" width="6.4" height="6.4" fill="#000"/>
<rect x="124.3" y="356.0" width="6.4" height="6.4" fill="#000"/>
<rect x="131.6" y="386.1" width="6.4" height="6.4" fill="#000"/>
<rect x="137.0" y="393.0" width="6.4" height="6.4" fill="#000"/>
<rect x="125.2" y="397.9" width="6.4" height="6.4" fill="#000"/>
<rect x="91.6" y="401.3" width="6.4" height="6.4" fill="#000"/>
<rect x="115.7" y="401.8" width="6.4" height="6.4" fill="#000"/>
<rect x="114.8" y="268.0" width="6.4" height="6.4" fill="#fff"/>
<rect x="135.8" y="268.7" width="6.4" height="6.4" fill="#fff"/>
<rect x="103.2" y="287.9" width="6.4" height="6.4" fill="#fff"/>
<rect x="123.4" y="295.5" width="6.4" height="6.4" fill="#fff"/>
<rect x="107.8" y="312.9" width="6.4" height="6.4" fill="#fff"/>
<rect x="101.2" y="316.2" width="6.4" height="6.4" fill="#fff"/>
<rect x="113.1" y="320.3" width="6.4" height="6.4" fill="#fff"/>
<rect x="120.0" y="333.2" width="6.4" height="6.4" fill="#fff"/>
<rect x="126.3" y="342.2" width="6.4" height="6.4" fill="#fff"/>
<rect x="135.0" y="384.5" width="6.4" height="6.4" fill="#fff"/>
<path d="M301.9 349.4L305.0 346.2L308.1 349.4L305.0 352.5Z" fill="#000"/>
<path d="M288.2 367.4L291.3 364.2L294.4 367.4L291.3 370.5Z" fill="#000"/>
<path d="M292.9 372.0L296.0 368.9L299.1 372.0L296.0 375.1Z" fill="#000"/>
<path d="M280.2 373.9L283.4 370.8L286.5 373.9L283.4 377.0Z" fill="#000"/>
<path d="M293.6 386.4L296.7 383.2L299.8 386.4L296.7 389.5Z" fill="#000"/>
<path d="M258.5 413.6L261.6 410.5L264.8 413.6L261.6 416.8Z" fill="#000"/>
<path d="M264.5 413.6L267.6 410.5L270.8 413.6L267.6 416.8Z" fill="#000"/>
<path d="M269.1 413.6L272.2 410.5L275.3 413.6L272.2 416.8Z" fill="#000"/>
<path d="M273.7 413.6L276.8 410.5L279.9 413.6L276.8 416.8Z" fill="#000"/>
<path d="M279.7 413.8L282.8 410.7L285.9 413.8L282.8 416.9Z" fill="#000"/>
<path d="M284.2 413.8L287.4 410.7L290.5 413.8L287.4 416.9Z" fill="#000"/>
<path d="M298.2 414.0L301.3 410.9L304.4 414.0L301.3 417.1Z" fill="#000"/>
<path d="M322.5 287.8L325.6 284.7L328.8 287.8L325.6 290.9Z" fill="#fff"/>
<path d="M316.6 292.6L319.7 289.5L322.8 292.6L319.7 295.8Z" fill="#fff"/>
<path d="M307.0 305.6L310.1 302.5L313.2 305.6L310.1 308.8Z" fill="#fff"/>
<path d="M302.7 310.6L305.8 307.5L308.9 310.6L305.8 313.8Z" fill="#fff"/>
<path d="M312.6 308.9L315.7 305.8L318.8 308.9L315.7 312.0Z" fill="#fff"/>
<path d="M306.7 312.2L309.8 309.1L312.9 312.2L309.8 315.3Z" fill="#fff"/>
<path d="M311.2 312.9L314.4 309.8L317.5 312.9L314.4 316.0Z" fill="#fff"/>
<path d="M321.9 312.2L325.0 309.1L328.1 312.2L325.0 315.3Z" fill="#fff"/>
<path d="M316.8 316.2L319.9 313.1L323.0 316.2L319.9 319.3Z" fill="#fff"/>
<path d="M311.6 326.1L314.7 323.0L317.8 326.1L314.7 329.2Z" fill="#fff"/>
<path d="M308.2 334.5L311.3 331.4L314.4 334.5L311.3 337.6Z" fill="#fff"/>
<path d="M316.1 334.5L319.2 331.4L322.3 334.5L319.2 337.6Z" fill="#fff"/>
<path d="M317.1 344.6L320.2 341.5L323.3 344.6L320.2 347.8Z" fill="#fff"/>
<path d="M308.2 345.4L311.3 342.2L314.4 345.4L311.3 348.5Z" fill="#fff"/>
<path d="M307.4 376.1L310.5 373.0L313.6 376.1L310.5 379.2Z" fill="#fff"/>
<path d="M305.5 398.3L308.6 395.2L311.8 398.3L308.6 401.4Z" fill="#fff"/>
<path d="M312.7 398.3L315.8 395.2L318.9 398.3L315.8 401.4Z" fill="#fff"/>
<path d="M320.9 410.9L324.0 407.8L327.1 410.9L324.0 414.0Z" fill="#fff"/>
<path d="M290.05 312.60L296.35 312.60L293.20 306.55Z" fill="#000"/>
<path d="M310.55 311.90L316.85 311.90L313.70 305.85Z" fill="#000"/>
<path d="M300.65 321.90L306.95 321.90L303.80 315.85Z" fill="#000"/>
<path d="M298.55 333.80L304.85 333.80L301.70 327.75Z" fill="#000"/>
<path d="M292.65 346.30L298.95 346.30L295.80 340.25Z" fill="#000"/>
<path d="M300.55 358.90L306.85 358.90L303.70 352.85Z" fill="#000"/>
<path d="M293.95 366.40L300.25 366.40L297.10 360.35Z" fill="#000"/>
<path d="M282.35 372.60L288.65 372.60L285.50 366.55Z" fill="#000"/>
<path d="M314.25 377.10L320.55 377.10L317.40 371.05Z" fill="#000"/>
<path d="M290.15 380.50L296.45 380.50L293.30 374.45Z" fill="#000"/>
<path d="M274.05 395.00L280.35 395.00L277.20 388.95Z" fill="#000"/>
<path d="M282.25 396.70L288.55 396.70L285.40 390.65Z" fill="#000"/>
<path d="M301.85 402.00L308.15 402.00L305.00 395.95Z" fill="#000"/>
<path d="M294.15 412.20L300.45 412.20L297.30 406.15Z" fill="#000"/>
<path d="M296.85 410.90L303.15 410.90L300.00 404.85Z" fill="#000"/>
<path d="M334.35 276.50L340.65 276.50L337.50 270.45Z" fill="#fff"/>
<path d="M325.55 315.10L331.85 315.10L328.70 309.05Z" fill="#fff"/>
<path d="M333.45 310.60L339.75 310.60L336.60 304.55Z" fill="#fff"/>
<path d="M332.05 317.60L338.35 317.60L335.20 311.55Z" fill="#fff"/>
<path d="M327.05 331.10L333.35 331.10L330.20 325.05Z" fill="#fff"/>
<path d="M323.95 332.40L330.25 332.40L327.10 326.35Z" fill="#fff"/>
<path d="M313.15 339.70L319.45 339.70L316.30 333.65Z" fill="#fff"/>
<path d="M334.25 344.30L340.55 344.30L337.40 338.25Z" fill="#fff"/>
<path d="M330.25 364.10L336.55 364.10L333.40 358.05Z" fill="#fff"/>
<path d="M322.45 365.40L328.75 365.40L325.60 359.35Z" fill="#fff"/>
<path d="M314.85 366.40L321.15 366.40L318.00 360.35Z" fill="#fff"/>
<path d="M311.25 371.00L317.55 371.00L314.40 364.95Z" fill="#fff"/>
<path d="M328.35 383.10L334.65 383.10L331.50 377.05Z" fill="#fff"/>
<path d="M336.15 389.00L342.45 389.00L339.30 382.95Z" fill="#fff"/>
<circle cx="274.1" cy="370.2" r="3.3" fill="#000"/>
<circle cx="265.3" cy="375.2" r="3.3" fill="#000"/>
<circle cx="271.5" cy="381.8" r="3.3" fill="#000"/>
<circle cx="267.6" cy="389.8" r="3.3" fill="#000"/>
<circle cx="263.6" cy="403.6" r="3.3" fill="#000"/>
<circle cx="266.0" cy="405.0" r="3.3" fill="#000"/>
<circle cx="268.9" cy="405.6" r="3.3" fill="#000"/>
<circle cx="273.5" cy="407.6" r="3.3" fill="#000"/>
<circle cx="280.8" cy="403.6" r="3.3" fill="#000"/>
<circle cx="292.7" cy="402.6" r="3.3" fill="#000"/>
<circle cx="276.8" cy="410.2" r="3.3" fill="#000"/>
<circle cx="271.0" cy="410.5" r="3.3" fill="#000"/>
<circle cx="307.5" cy="300.6" r="3.3" fill="#fff"/>
<circle cx="316.9" cy="340.7" r="3.3" fill="#fff"/>
<circle cx="296.2" cy="353.0" r="3.3" fill="#fff"/>
<circle cx="303.3" cy="362.3" r="3.3" fill="#fff"/>
<circle cx="320.2" cy="368.4" r="3.3" fill="#fff"/>
<circle cx="304.8" cy="371.0" r="3.3" fill="#fff"/>
<circle cx="300.0" cy="381.2" r="3.3" fill="#fff"/>
<circle cx="301.0" cy="393.7" r="3.3" fill="#fff"/>
<circle cx="321.1" cy="401.7" r="3.3" fill="#fff"/>
<circle cx="319.1" cy="405.2" r="3.3" fill="#fff"/>
<path d="M335.35 358.30L341.65 358.30L338.50 364.35Z" fill="#000"/>
<path d="M364.55 381.90L370.85 381.90L367.70 387.95Z" fill="#000"/>
<path d="M341.65 411.00L347.95 411.00L344.80 417.05Z" fill="#000"/>
<path d="M349.95 411.00L356.25 411.00L353.10 417.05Z" fill="#000"/>
<path d="M353.95 411.00L360.25 411.00L357.10 417.05Z" fill="#000"/>
<path d="M359.25 411.00L365.55 411.00L362.40 417.05Z" fill="#000"/>
<path d="M363.25 411.00L369.55 411.00L366.40 417.05Z" fill="#000"/>
<path d="M367.85 303.70L374.15 303.70L371.00 309.75Z" fill="#fff"/>
<path d="M369.85 303.70L376.15 303.70L373.00 309.75Z" fill="#fff"/>
<path d="M375.55 323.90L381.85 323.90L378.70 329.95Z" fill="#fff"/>
<path d="M373.55 329.20L379.85 329.20L376.70 335.25Z" fill="#fff"/>
<path d="M363.05 336.80L369.35 336.80L366.20 342.85Z" fill="#fff"/>
<path d="M380.45 351.70L386.75 351.70L383.60 357.75Z" fill="#fff"/>
<path d="M373.55 351.00L379.85 351.00L376.70 357.05Z" fill="#fff"/>
<path d="M395.75 360.30L402.05 360.30L398.90 366.35Z" fill="#fff"/>
<path d="M368.85 411.00L375.15 411.00L372.00 417.05Z" fill="#fff"/>
<path d="M373.35 411.00L379.65 411.00L376.50 417.05Z" fill="#fff"/>
<rect x="374.9" y="264.7" width="6.4" height="6.4" fill="#000"/>
<rect x="379.1" y="328.6" width="6.4" height="6.4" fill="#000"/>
<rect x="364.0" y="355.5" width="6.4" height="6.4" fill="#000"/>
<rect x="373.5" y="355.7" width="6.4" height="6.4" fill="#000"/>
<rect x="359.2" y="385.9" width="6.4" height="6.4" fill="#000"/>
<rect x="378.6" y="393.2" width="6.4" height="6.4" fill="#000"/>
<rect x="368.1" y="395.8" width="6.4" height="6.4" fill="#000"/>
<rect x="363.8" y="399.8" width="6.4" height="6.4" fill="#000"/>
<rect x="351.9" y="401.5" width="6.4" height="6.4" fill="#000"/>
<rect x="368.9" y="267.8" width="6.4" height="6.4" fill="#fff"/>
<rect x="381.2" y="268.7" width="6.4" height="6.4" fill="#fff"/>
<rect x="381.5" y="287.9" width="6.4" height="6.4" fill="#fff"/>
<rect x="397.3" y="295.5" width="6.4" height="6.4" fill="#fff"/>
<rect x="380.8" y="313.0" width="6.4" height="6.4" fill="#fff"/>
<rect x="374.0" y="316.1" width="6.4" height="6.4" fill="#fff"/>
<rect x="370.2" y="320.3" width="6.4" height="6.4" fill="#fff"/>
<rect x="370.9" y="333.0" width="6.4" height="6.4" fill="#fff"/>
<rect x="373.3" y="342.5" width="6.4" height="6.4" fill="#fff"/>
<rect x="365.8" y="384.6" width="6.4" height="6.4" fill="#fff"/>
<path d="M487.2 349.4L490.4 346.2L493.5 349.4L490.4 352.5Z" fill="#000"/>
<path d="M458.5 367.6L461.6 364.5L464.8 367.6L461.6 370.8Z" fill="#000"/>
<path d="M461.2 371.5L464.3 368.4L467.4 371.5L464.3 374.6Z" fill="#000"/>
<path d="M478.4 372.5L481.5 369.4L484.6 372.5L481.5 375.6Z" fill="#000"/>
<path d="M482.4 386.4L485.5 383.2L488.6 386.4L485.5 389.5Z" fill="#000"/>
<path d="M429.9 413.6L433.0 410.5L436.1 413.6L433.0 416.8Z" fill="#000"/>
<path d="M444.1 413.6L447.2 410.5L450.3 413.6L447.2 416.8Z" fill="#000"/>
<path d="M448.7 413.6L451.8 410.5L454.9 413.6L451.8 416.8Z" fill="#000"/>
<path d="M453.2 413.6L456.4 410.5L459.5 413.6L456.4 416.8Z" fill="#000"/>
<path d="M465.2 413.6L468.3 410.5L471.4 413.6L468.3 416.8Z" fill="#000"/>
<path d="M470.5 413.6L473.6 410.5L476.8 413.6L473.6 416.8Z" fill="#000"/>
<path d="M482.0 413.6L485.1 410.5L488.2 413.6L485.1 416.8Z" fill="#000"/>
<path d="M515.1 288.1L518.2 285.0L521.4 288.1L518.2 291.2Z" fill="#fff"/>
<path d="M498.2 293.0L501.4 289.9L504.5 293.0L501.4 296.1Z" fill="#fff"/>
<path d="M496.6 304.9L499.7 301.8L502.8 304.9L499.7 308.0Z" fill="#fff"/>
<path d="M493.2 308.9L496.4 305.8L499.5 308.9L496.4 312.0Z" fill="#fff"/>
<path d="M493.2 312.2L496.4 309.1L499.5 312.2L496.4 315.3Z" fill="#fff"/>
<path d="M499.2 309.8L502.3 306.7L505.4 309.8L502.3 312.9Z" fill="#fff"/>
<path d="M521.4 312.9L524.5 309.8L527.6 312.9L524.5 316.0Z" fill="#fff"/>
<path d="M503.7 316.7L506.8 313.6L509.9 316.7L506.8 319.8Z" fill="#fff"/>
<path d="M507.4 326.5L510.5 323.4L513.6 326.5L510.5 329.6Z" fill="#fff"/>
<path d="M498.8 334.5L501.9 331.4L505.0 334.5L501.9 337.6Z" fill="#fff"/>
<path d="M509.8 334.9L512.9 331.8L516.0 334.9L512.9 338.0Z" fill="#fff"/>
<path d="M504.1 339.1L507.2 336.0L510.3 339.1L507.2 342.2Z" fill="#fff"/>
<path d="M505.5 344.6L508.6 341.5L511.8 344.6L508.6 347.8Z" fill="#fff"/>
<path d="M498.4 345.7L501.5 342.6L504.6 345.7L501.5 348.8Z" fill="#fff"/>
<path d="M492.7 398.6L495.8 395.5L498.9 398.6L495.8 401.8Z" fill="#fff"/>
<path d="M513.1 406.3L516.2 403.2L519.4 406.3L516.2 409.4Z" fill="#fff"/>
<path d="M513.2 410.9L516.4 407.8L519.5 410.9L516.4 414.0Z" fill="#fff"/>
<path d="M469.85 312.40L476.15 312.40L473.00 306.35Z" fill="#000"/>
<path d="M487.95 312.40L494.25 312.40L491.10 306.35Z" fill="#000"/>
<path d="M481.95 321.90L488.25 321.90L485.10 315.85Z" fill="#000"/>
<path d="M477.65 333.80L483.95 333.80L480.80 327.75Z" fill="#000"/>
<path d="M471.05 346.70L477.35 346.70L474.20 340.65Z" fill="#000"/>
<path d="M481.95 359.50L488.25 359.50L485.10 353.45Z" fill="#000"/>
<path d="M475.65 366.80L481.95 366.80L478.80 360.75Z" fill="#000"/>
<path d="M489.65 377.80L495.95 377.80L492.80 371.75Z" fill="#000"/>
<path d="M467.45 380.80L473.75 380.80L470.60 374.75Z" fill="#000"/>
<path d="M452.85 395.00L459.15 395.00L456.00 388.95Z" fill="#000"/>
<path d="M458.55 396.30L464.85 396.30L461.70 390.25Z" fill="#000"/>
<path d="M477.75 402.50L484.05 402.50L480.90 396.45Z" fill="#000"/>
<path d="M468.45 410.90L474.75 410.90L471.60 404.85Z" fill="#000"/>
<path d="M471.15 410.90L477.45 410.90L474.30 404.85Z" fill="#000"/>
<path d="M502.45 276.70L508.75 276.70L505.60 270.65Z" fill="#fff"/>
<path d="M501.85 310.80L508.15 310.80L505.00 304.75Z" fill="#fff"/>
<path d="M496.55 314.80L502.85 314.80L499.70 308.75Z" fill="#fff"/>
<path d="M502.45 314.80L508.75 314.80L505.60 308.75Z" fill="#fff"/>
<path d="M498.35 317.80L504.65 317.80L501.50 311.75Z" fill="#fff"/>
<path d="M491.25 331.10L497.55 331.10L494.40 325.05Z" fill="#fff"/>
<path d="M498.75 332.40L505.05 332.40L501.90 326.35Z" fill="#fff"/>
<path d="M483.55 340.40L489.85 340.40L486.70 334.35Z" fill="#fff"/>
<path d="M508.05 344.30L514.35 344.30L511.20 338.25Z" fill="#fff"/>
<path d="M483.35 345.00L489.65 345.00L486.50 338.95Z" fill="#fff"/>
<path d="M503.35 364.00L509.65 364.00L506.50 357.95Z" fill="#fff"/>
<path d="M495.35 365.50L501.65 365.50L498.50 359.45Z" fill="#fff"/>
<path d="M484.95 366.90L491.25 366.90L488.10 360.85Z" fill="#fff"/>
<path d="M498.35 379.10L504.65 379.10L501.50 373.05Z" fill="#fff"/>
<path d="M498.35 383.10L504.65 383.10L501.50 377.05Z" fill="#fff"/>
<path d="M500.15 389.00L506.45 389.00L503.30 382.95Z" fill="#fff"/>
<path d="M500.45 400.30L506.75 400.30L503.60 394.25Z" fill="#fff"/>
<circle cx="451.8" cy="370.6" r="3.3" fill="#000"/>
<circle cx="444.1" cy="375.6" r="3.3" fill="#000"/>
<circle cx="449.8" cy="381.8" r="3.3" fill="#000"/>
<circle cx="444.5" cy="390.1" r="3.3" fill="#000"/>
<circle cx="438.6" cy="403.0" r="3.3" fill="#000"/>
<circle cx="442.5" cy="404.3" r="3.3" fill="#000"/>
<circle cx="450.5" cy="407.3" r="3.3" fill="#000"/>
<circle cx="459.7" cy="403.0" r="3.3" fill="#000"/>
<circle cx="463.7" cy="404.3" r="3.3" fill="#000"/>
<circle cx="473.2" cy="402.3" r="3.3" fill="#000"/>
<circle cx="447.5" cy="409.5" r="3.3" fill="#000"/>
<circle cx="454.0" cy="410.0" r="3.3" fill="#000"/>
<circle cx="485.1" cy="301.0" r="3.3" fill="#fff"/>
<circle cx="497.6" cy="341.5" r="3.3" fill="#fff"/>
<circle cx="474.2" cy="353.4" r="3.3" fill="#fff"/>
<circle cx="480.3" cy="362.6" r="3.3" fill="#fff"/>
<circle cx="494.9" cy="368.9" r="3.3" fill="#fff"/>
<circle cx="487.0" cy="371.0" r="3.3" fill="#fff"/>
<circle cx="480.2" cy="381.4" r="3.3" fill="#fff"/>
<circle cx="475.6" cy="393.7" r="3.3" fill="#fff"/>
<circle cx="502.1" cy="401.3" r="3.3" fill="#fff"/>
<circle cx="504.5" cy="405.1" r="3.3" fill="#fff"/>
<path d="M525.75 358.30L532.05 358.30L528.90 364.35Z" fill="#000"/>
<path d="M553.95 381.90L560.25 381.90L557.10 387.95Z" fill="#000"/>
<path d="M529.25 411.00L535.55 411.00L532.40 417.05Z" fill="#000"/>
<path d="M534.45 411.00L540.75 411.00L537.60 417.05Z" fill="#000"/>
<path d="M547.45 411.00L553.75 411.00L550.60 417.05Z" fill="#000"/>
<path d="M555.05 411.00L561.35 411.00L558.20 417.05Z" fill="#000"/>
<path d="M549.35 304.30L555.65 304.30L552.50 310.35Z" fill="#fff"/>
<path d="M557.55 304.10L563.85 304.10L560.70 310.15Z" fill="#fff"/>
<path d="M555.15 324.60L561.45 324.60L558.30 330.65Z" fill="#fff"/>
<path d="M551.25 330.50L557.55 330.50L554.40 336.55Z" fill="#fff"/>
<path d="M544.55 336.80L550.85 336.80L547.70 342.85Z" fill="#fff"/>
<path d="M557.85 351.70L564.15 351.70L561.00 357.75Z" fill="#fff"/>
<path d="M561.55 351.70L567.85 351.70L564.70 357.75Z" fill="#fff"/>
<path d="M575.45 360.60L581.75 360.60L578.60 366.65Z" fill="#fff"/>
<path d="M540.35 411.00L546.65 411.00L543.50 417.05Z" fill="#fff"/>
<path d="M551.25 411.00L557.55 411.00L554.40 417.05Z" fill="#fff"/>
<rect x="562.8" y="264.7" width="6.4" height="6.4" fill="#000"/>
<rect x="561.7" y="328.6" width="6.4" height="6.4" fill="#000"/>
<rect x="554.9" y="355.5" width="6.4" height="6.4" fill="#000"/>
<rect x="560.8" y="355.7" width="6.4" height="6.4" fill="#000"/>
<rect x="542.7" y="385.9" width="6.4" height="6.4" fill="#000"/>
<rect x="556.3" y="385.2" width="6.4" height="6.4" fill="#000"/>
<rect x="561.2" y="393.2" width="6.4" height="6.4" fill="#000"/>
<rect x="555.0" y="397.1" width="6.4" height="6.4" fill="#000"/>
<rect x="550.6" y="401.1" width="6.4" height="6.4" fill="#000"/>
<rect x="557.7" y="399.8" width="6.4" height="6.4" fill="#000"/>
<rect x="560.4" y="268.0" width="6.4" height="6.4" fill="#fff"/>
<rect x="565.7" y="269.1" width="6.4" height="6.4" fill="#fff"/>
<rect x="580.6" y="288.1" width="6.4" height="6.4" fill="#fff"/>
<rect x="588.6" y="295.8" width="6.4" height="6.4" fill="#fff"/>
<rect x="577.4" y="313.2" width="6.4" height="6.4" fill="#fff"/>
<rect x="573.4" y="316.3" width="6.4" height="6.4" fill="#fff"/>
<rect x="563.2" y="320.7" width="6.4" height="6.4" fill="#fff"/>
<rect x="560.8" y="333.2" width="6.4" height="6.4" fill="#fff"/>
<rect x="560.8" y="342.5" width="6.4" height="6.4" fill="#fff"/>
<rect x="548.9" y="384.8" width="6.4" height="6.4" fill="#fff"/>
</g>
<text class="b" x="50.1" y="174.4" font-size="11.4" text-anchor="end" >0</text>
<text class="b" x="50.1" y="127.5" font-size="11.4" text-anchor="end" >500</text>
<text class="b" x="50.1" y="80.5" font-size="11.4" text-anchor="end" >1000</text>
<text class="b" x="50.1" y="33.6" font-size="11.4" text-anchor="end" >1500</text>
<text class="b" x="50.1" y="417.8" font-size="11.4" text-anchor="end" >0</text>
<text class="b" x="50.1" y="370.8" font-size="11.4" text-anchor="end" >500</text>
<text class="b" x="50.1" y="323.9" font-size="11.4" text-anchor="end" >1000</text>
<text class="b" x="50.1" y="276.9" font-size="11.4" text-anchor="end" >1500</text>
<text class="b" x="55.3" y="193.9" font-size="11.3" text-anchor="middle" >4</text>
<text class="b" x="90.9" y="193.9" font-size="11.3" text-anchor="middle" >5</text>
<text class="b" x="126.5" y="193.9" font-size="11.3" text-anchor="middle" >6</text>
<text class="b" x="162.1" y="193.9" font-size="11.3" text-anchor="middle" >7</text>
<text class="b" x="197.7" y="193.9" font-size="11.3" text-anchor="middle" >8</text>
<text class="b" x="232.7" y="193.9" font-size="11.3" text-anchor="middle" >9</text>
<text class="b" x="242.0" y="193.9" font-size="11.3" text-anchor="middle" >1</text>
<text class="b" x="285.4" y="193.9" font-size="11.3" text-anchor="middle" >2</text>
<text class="b" x="329.9" y="193.9" font-size="11.3" text-anchor="middle" >3</text>
<text class="b" x="374.4" y="193.9" font-size="11.3" text-anchor="middle" >4</text>
<text class="b" x="418.9" y="193.9" font-size="11.3" text-anchor="middle" >5</text>
<text class="b" x="480.3" y="193.9" font-size="11.3" text-anchor="middle" >2</text>
<text class="b" x="551.3" y="193.9" font-size="11.3" text-anchor="middle" >3</text>
<text class="b" x="65.7" y="437.2" font-size="11.3" text-anchor="middle" >300</text>
<text class="b" x="118.2" y="437.2" font-size="11.3" text-anchor="middle" >350</text>
<text class="b" x="170.7" y="437.2" font-size="11.3" text-anchor="middle" >400</text>
<text class="b" x="223.2" y="437.2" font-size="11.3" text-anchor="middle" >450</text>
<text class="b" x="300.2" y="437.2" font-size="11.3" text-anchor="middle" >5</text>
<text class="b" x="374.6" y="437.2" font-size="11.3" text-anchor="middle" >10</text>
<text class="b" x="456.2" y="437.2" font-size="11.3" text-anchor="middle" >0.01</text>
<text class="b" x="515.6" y="437.2" font-size="11.3" text-anchor="middle" >0.02</text>
<text class="b" x="575.0" y="437.2" font-size="11.3" text-anchor="middle" >0.03</text>
<text class="b" transform="translate(12.2 90.8) rotate(-90)" font-size="14" text-anchor="middle" textLength="125.9" lengthAdjust="spacingAndGlyphs">Total length (mm/m)</text>
<text class="b" transform="translate(12.2 334.2) rotate(-90)" font-size="14" text-anchor="middle" textLength="125.9" lengthAdjust="spacingAndGlyphs">Total length (mm/m)</text>
<text class="ser" x="65.7" y="20.4" font-size="13.2" font-style="italic" stroke="#111" stroke-width="0.25" textLength="5.3" lengthAdjust="spacingAndGlyphs">y</text>
<text class="ser" x="74.2" y="20.4" font-size="13.2" stroke="#111" stroke-width="0.25" textLength="7.2" lengthAdjust="spacingAndGlyphs">=</text>
<text class="ser" x="84.6" y="20.4" font-size="13.2" stroke="#111" stroke-width="0.25" textLength="28.1" lengthAdjust="spacingAndGlyphs">215.9</text>
<text class="ser" x="115.1" y="20.4" font-size="13.2" font-style="italic" stroke="#111" stroke-width="0.25" textLength="5.4" lengthAdjust="spacingAndGlyphs">x</text>
<text class="ser" x="123.2" y="20.4" font-size="13.2" stroke="#111" stroke-width="0.25" textLength="7.2" lengthAdjust="spacingAndGlyphs">−</text>
<text class="ser" x="132.8" y="20.4" font-size="13.2" stroke="#111" stroke-width="0.25" textLength="27.8" lengthAdjust="spacingAndGlyphs">889.1</text>
<text class="ser" x="65.7" y="38.8" font-size="13.2" font-style="italic" stroke="#111" stroke-width="0.25" textLength="5.6" lengthAdjust="spacingAndGlyphs">r</text>
<text class="ser" x="72.3" y="38.8" font-size="13.2" stroke="#111" stroke-width="0.25" textLength="7.4" lengthAdjust="spacingAndGlyphs">=</text>
<text class="ser" x="83.5" y="38.8" font-size="13.2" stroke="#111" stroke-width="0.25" textLength="27.5" lengthAdjust="spacingAndGlyphs">0.334</text>
<text class="ser" x="115.5" y="35.6" font-size="11.5" stroke="#111" stroke-width="0.22" textLength="11.2" lengthAdjust="spacingAndGlyphs">***</text>
<text class="ser" x="250.7" y="20.4" font-size="13.2" font-style="italic" stroke="#111" stroke-width="0.25" textLength="5.1" lengthAdjust="spacingAndGlyphs">y</text>
<text class="ser" x="258.9" y="20.4" font-size="13.2" stroke="#111" stroke-width="0.25" textLength="6.2" lengthAdjust="spacingAndGlyphs">=</text>
<text class="ser" x="269.1" y="20.4" font-size="13.2" stroke="#111" stroke-width="0.25" textLength="27.4" lengthAdjust="spacingAndGlyphs">348.1</text>
<text class="ser" x="299.3" y="20.4" font-size="13.2" font-style="italic" stroke="#111" stroke-width="0.25" textLength="5.5" lengthAdjust="spacingAndGlyphs">x</text>
<text class="ser" x="308.1" y="20.4" font-size="13.2" stroke="#111" stroke-width="0.25" textLength="6.0" lengthAdjust="spacingAndGlyphs">−</text>
<text class="ser" x="317.5" y="20.4" font-size="13.2" stroke="#111" stroke-width="0.25" textLength="28.0" lengthAdjust="spacingAndGlyphs">466.3</text>
<text class="ser" x="250.7" y="38.8" font-size="13.2" font-style="italic" stroke="#111" stroke-width="0.25" textLength="5.6" lengthAdjust="spacingAndGlyphs">r</text>
<text class="ser" x="257.3" y="38.8" font-size="13.2" stroke="#111" stroke-width="0.25" textLength="7.4" lengthAdjust="spacingAndGlyphs">=</text>
<text class="ser" x="268.5" y="38.8" font-size="13.2" stroke="#111" stroke-width="0.25" textLength="27.5" lengthAdjust="spacingAndGlyphs">0.365</text>
<text class="ser" x="300.5" y="35.6" font-size="11.5" stroke="#111" stroke-width="0.22" textLength="11.2" lengthAdjust="spacingAndGlyphs">***</text>
<text class="ser" x="251.3" y="263.4" font-size="13.2" font-style="italic" stroke="#111" stroke-width="0.25" textLength="5.3" lengthAdjust="spacingAndGlyphs">y</text>
<text class="ser" x="259.5" y="263.4" font-size="13.2" stroke="#111" stroke-width="0.25" textLength="6.2" lengthAdjust="spacingAndGlyphs">=</text>
<text class="ser" x="269.5" y="263.4" font-size="13.2" stroke="#111" stroke-width="0.25" textLength="28.4" lengthAdjust="spacingAndGlyphs">61.47</text>
<text class="ser" x="300.7" y="263.4" font-size="13.2" font-style="italic" stroke="#111" stroke-width="0.25" textLength="6.1" lengthAdjust="spacingAndGlyphs">x</text>
<text class="ser" x="309.5" y="263.4" font-size="13.2" stroke="#111" stroke-width="0.25" textLength="6.2" lengthAdjust="spacingAndGlyphs">+</text>
<text class="ser" x="319.1" y="263.4" font-size="13.2" stroke="#111" stroke-width="0.25" textLength="27.4" lengthAdjust="spacingAndGlyphs">115.1</text>
<text class="ser" x="251.3" y="281.8" font-size="13.2" font-style="italic" stroke="#111" stroke-width="0.25" textLength="5.6" lengthAdjust="spacingAndGlyphs">r</text>
<text class="ser" x="257.9" y="281.8" font-size="13.2" stroke="#111" stroke-width="0.25" textLength="7.4" lengthAdjust="spacingAndGlyphs">=</text>
<text class="ser" x="269.1" y="281.8" font-size="13.2" stroke="#111" stroke-width="0.25" textLength="27.5" lengthAdjust="spacingAndGlyphs">0.354</text>
<text class="ser" x="301.1" y="278.6" font-size="11.5" stroke="#111" stroke-width="0.22" textLength="11.2" lengthAdjust="spacingAndGlyphs">***</text>
<text class="ser" x="437.1" y="263.4" font-size="13.2" font-style="italic" stroke="#111" stroke-width="0.25" textLength="5.1" lengthAdjust="spacingAndGlyphs">y</text>
<text class="ser" x="445.5" y="263.4" font-size="13.2" stroke="#111" stroke-width="0.25" textLength="6.6" lengthAdjust="spacingAndGlyphs">=</text>
<text class="ser" x="456.4" y="263.4" font-size="13.2" stroke="#111" stroke-width="0.25" textLength="30.5" lengthAdjust="spacingAndGlyphs">22254</text>
<text class="ser" x="489.7" y="263.4" font-size="13.2" font-style="italic" stroke="#111" stroke-width="0.25" textLength="6.0" lengthAdjust="spacingAndGlyphs">x</text>
<text class="ser" x="498.5" y="263.4" font-size="13.2" stroke="#111" stroke-width="0.25" textLength="6.2" lengthAdjust="spacingAndGlyphs">+</text>
<text class="ser" x="509.0" y="263.4" font-size="13.2" stroke="#111" stroke-width="0.25" textLength="26.5" lengthAdjust="spacingAndGlyphs">109.8</text>
<text class="ser" x="437.1" y="281.8" font-size="13.2" font-style="italic" stroke="#111" stroke-width="0.25" textLength="5.6" lengthAdjust="spacingAndGlyphs">r</text>
<text class="ser" x="443.7" y="281.8" font-size="13.2" stroke="#111" stroke-width="0.25" textLength="7.4" lengthAdjust="spacingAndGlyphs">=</text>
<text class="ser" x="454.9" y="281.8" font-size="13.2" stroke="#111" stroke-width="0.25" textLength="27.5" lengthAdjust="spacingAndGlyphs">0.348</text>
<text class="ser" x="486.9" y="278.6" font-size="11.5" stroke="#111" stroke-width="0.22" textLength="11.2" lengthAdjust="spacingAndGlyphs">***</text>
<text class="ser" x="120.5" y="215.2"  font-size="14" font-style="italic" textLength="9.9" lengthAdjust="spacingAndGlyphs">α</text>
<text class="b2" x="131.5" y="221.0" font-size="10.5" textLength="6.0" lengthAdjust="spacingAndGlyphs">T</text>
<text x="137.9" y="215.5" font-size="14" textLength="7.4" lengthAdjust="spacingAndGlyphs">ii</text>
<text x="148.6" y="215.5" font-size="14" textLength="21.5" lengthAdjust="spacingAndGlyphs">(%)</text>
<text class="ser" x="305.3" y="215.2"  font-size="14" font-style="italic" textLength="9.9" lengthAdjust="spacingAndGlyphs">α</text>
<text class="b2" x="316.9" y="221.0" font-size="10.5" textLength="7.2" lengthAdjust="spacingAndGlyphs">R</text>
<text x="324.4" y="215.5" font-size="14" textLength="7.4" lengthAdjust="spacingAndGlyphs">ii</text>
<text x="335.0" y="215.5" font-size="14" textLength="21.3" lengthAdjust="spacingAndGlyphs">(%)</text>
<text class="ser" x="468.8" y="215.2"  font-size="14" font-style="italic" textLength="9.9" lengthAdjust="spacingAndGlyphs">α</text>
<text class="b2" x="480.6" y="221.0" font-size="10.5" textLength="5.7" lengthAdjust="spacingAndGlyphs">T</text>
<text x="486.4" y="215.5" font-size="14" textLength="11.1" lengthAdjust="spacingAndGlyphs">ii/</text>
<text class="ser" x="497.0" y="215.2"  font-size="14" font-style="italic" textLength="9.9" lengthAdjust="spacingAndGlyphs">α</text>
<text class="b2" x="509.0" y="221.0" font-size="10.5" textLength="6.3" lengthAdjust="spacingAndGlyphs">R</text>
<text x="515.9" y="215.5" font-size="14" textLength="7.2" lengthAdjust="spacingAndGlyphs">ii</text>
<text x="526.9" y="215.5" font-size="14" textLength="38.0" lengthAdjust="spacingAndGlyphs">(%/%)</text>
<text x="109.7" y="463.6" font-size="14" textLength="58.5" lengthAdjust="spacingAndGlyphs">BD (kg/m</text>
<text class="b2" x="169.1" y="459.4" font-size="10.5" textLength="5.5" lengthAdjust="spacingAndGlyphs">3</text>
<text x="174.4" y="463.6" font-size="14" textLength="4.1" lengthAdjust="spacingAndGlyphs">)</text>
<text x="287.7" y="459.0" font-size="14" textLength="31.7" lengthAdjust="spacingAndGlyphs">MOE</text>
<text class="b2" x="319.4" y="463.8" font-size="10.5" textLength="16.1" lengthAdjust="spacingAndGlyphs">GT</text>
<text x="335.3" y="459.0" font-size="14" textLength="37.1" lengthAdjust="spacingAndGlyphs">(GPa)</text>
<text x="434.8" y="463.0" font-size="14" textLength="31.3" lengthAdjust="spacingAndGlyphs">MOE</text>
<text class="b2" x="466.5" y="467.8" font-size="10.5" textLength="14.8" lengthAdjust="spacingAndGlyphs">GT</text>
<text x="480.7" y="463.0" font-size="14" textLength="101.4" lengthAdjust="spacingAndGlyphs">/BD (GPa/(kg/m</text>
<text class="b2" x="582.7" y="458.1" font-size="10.5" textLength="5.2" lengthAdjust="spacingAndGlyphs">3</text>
<text x="588.3" y="463.0" font-size="14" textLength="8.3" lengthAdjust="spacingAndGlyphs">))</text>
</svg>
</body></html>
